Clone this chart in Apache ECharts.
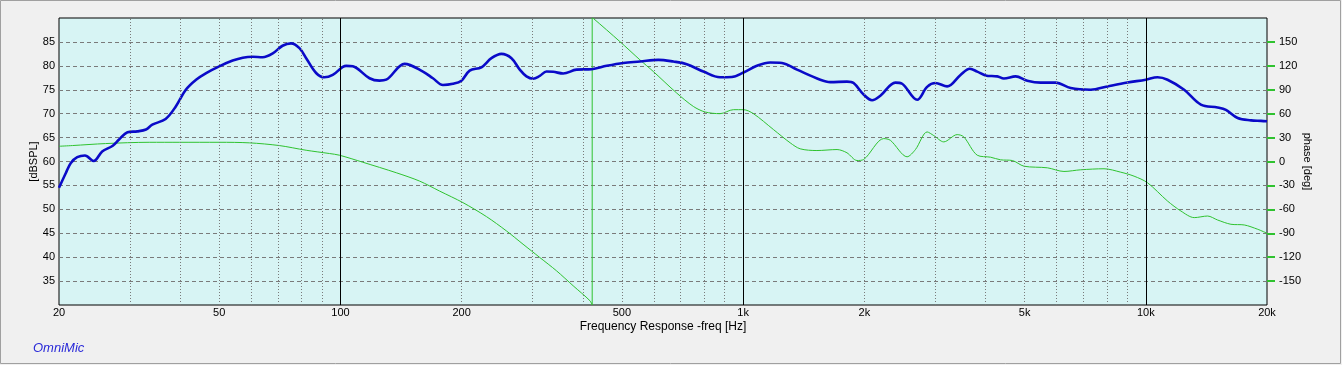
<!DOCTYPE html>
<html><head><meta charset="utf-8">
<script src="https://cdn.jsdelivr.net/npm/echarts@6/dist/echarts.min.js"></script>
<style>html,body{margin:0;padding:0;background:#f0f0f0}#c{width:1342px;height:365px}</style>
</head><body><div id="c"></div>
<script>
// SPL curve (Hz, dB)
const splFreq = [20, 20.8, 21.4, 22.2, 23.2, 24.4, 25.6, 27.2, 28.2, 29.6, 31.3, 32.9, 34.1, 36.8, 39.0, 41.3, 43.8, 46.4, 50.0, 54.0, 57.2, 60.5, 64.1, 67.9, 71.8, 75.4, 79.1, 82.2, 87.0, 91.2, 95.7, 103.3, 107.3, 118.1, 125, 129.9, 144.3, 160.3, 169.7, 179.7, 190.2, 199.7, 209.4, 223.9, 237.1, 251.0, 265.9, 278.8, 289.7, 300.9, 312.6, 324.9, 337.5, 357.3, 385.8, 420.4, 458.2, 503.8, 554.3, 615.6, 670.9, 724.4, 796.6, 876.6, 937.4, 1001.7, 1081.5, 1167.5, 1248.5, 1360.6, 1554.6, 1646, 1811, 1881, 1992, 2090, 2192, 2388, 2482, 2705, 2864, 3003, 3211, 3466, 3656, 3814, 3999, 4277, 4442, 4750, 5078, 5482, 5973, 6509, 7298, 8030, 9004, 10000, 10693, 11324, 12454, 13703, 15082, 15812, 16910, 18252, 19325, 20000];
const splDb = [54.5, 57.6, 59.7, 60.9, 61.25, 60.1, 62.1, 63.3, 64.6, 66.1, 66.3, 66.7, 67.7, 68.9, 71.5, 75.0, 77.1, 78.5, 79.9, 81.1, 81.7, 81.9, 81.8, 82.6, 84.2, 84.7, 83.7, 81.6, 78.5, 77.6, 78.1, 80.0, 79.9, 77.4, 76.9, 77.1, 80.4, 78.8, 77.4, 76.0, 76.25, 76.9, 79.0, 79.7, 81.6, 82.5, 81.6, 79.2, 77.8, 77.3, 77.9, 78.8, 78.75, 78.4, 79.2, 79.3, 80.0, 80.6, 80.9, 81.25, 80.9, 80.35, 78.8, 77.6, 77.65, 78.6, 80.0, 80.7, 80.6, 79.2, 77.1, 76.6, 76.7, 76.4, 74.0, 72.8, 73.75, 76.5, 76.25, 72.9, 75.6, 76.4, 75.7, 78.1, 79.4, 78.8, 78.0, 77.8, 77.35, 77.8, 76.9, 76.5, 76.5, 75.35, 75.0, 75.7, 76.5, 77.1, 77.6, 77.1, 75.0, 71.9, 71.3, 70.8, 69.1, 68.6, 68.5, 68.4];
// Phase curve (Hz, deg), split at the wrap
const phaseFreqLow = [20, 21.6, 26.1, 33.5, 39.8, 50, 59.4, 70.5, 82.2, 93.9, 99.4, 113.6, 137.6, 157.3, 176.3, 201.5, 230.4, 258.4, 284.1, 312.6, 344.0, 378.4, 416.4, 421.9];
const phaseLow = [19.1, 20, 22.5, 24.1, 24.1, 24.1, 23.4, 20, 14.1, 10.0, 7.9, -0.9, -14.1, -24.6, -37.1, -51.6, -69.1, -87.1, -103.75, -120.4, -137.1, -155.9, -174.6, -180];
const phaseFreqHigh = [421.9, 424.4, 494.3, 554.3, 598.3, 683.9, 752.2, 804.5, 876.6, 946, 1001.7, 1060.7, 1190, 1309, 1386, 1525, 1711, 1811, 1918, 1992, 2234, 2321, 2554, 2679, 2864, 2975, 3150, 3401, 3532, 3814, 4116, 4359, 4661, 4983, 5695, 6264, 6891, 7875, 8667, 9352, 10097, 11324, 12222, 13192, 14240, 15082, 16273, 17564, 18962, 20000];
const phaseHigh = [180, 179.6, 150.4, 127.5, 112.9, 85.9, 69.1, 62.1, 60, 65, 65, 60, 40, 23.4, 15.9, 13.75, 15, 10.9, 1.25, 2.5, 28.75, 26.6, 5.9, 15, 37.1, 32.5, 24.6, 33.75, 30.9, 7.9, 5.4, 2.1, 1.25, -5.9, -7.9, -12.5, -10.4, -9.1, -13.4, -18.4, -26.6, -49.6, -62.1, -70.4, -68.4, -73.4, -78.75, -79.6, -85, -90];
// Axis ticks
const xLabelValues = [20, 50, 100, 200, 500, 1000, 2000, 5000, 10000, 20000];
const majorGridFreqs = [100, 1000, 10000];
const minorGridFreqs = [30, 40, 50, 60, 70, 80, 90, 200, 300, 400, 500, 600, 700, 800, 900, 2000, 3000, 4000, 5000, 6000, 7000, 8000, 9000];
const phaseTicks = [-150, -120, -90, -60, -30, 0, 30, 60, 90, 120, 150];

const zip = (a, b) => a.map((v, i) => [v, b[i]]);
const font = '"Liberation Sans", Arial, sans-serif';
const green = '#2fc22f';
const chart = echarts.init(document.getElementById('c'), null, {renderer: 'canvas'});
const lowData = zip(phaseFreqLow, phaseLow);
const highData = zip(phaseFreqHigh, phaseHigh);

chart.setOption({
  backgroundColor: '#f0f0f0',
  animation: false,
  grid: {left: 59, top: 18, right: 75, height: 287, show: true, backgroundColor: '#d7f4f4', borderColor: '#000', borderWidth: 1},
  xAxis: {
    type: 'log', logBase: 10, min: 20, max: 20000,
    name: 'Frequency Response -freq [Hz]', nameLocation: 'middle', nameGap: 16, nameMoveOverlap: false,
    nameTextStyle: {fontSize: 12, color: '#000', fontFamily: font},
    axisLine: {show: false}, axisTick: {show: false}, splitLine: {show: false},
    minorTick: {show: false}, minorSplitLine: {show: false},
    axisLabel: {customValues: xLabelValues, formatter: v => v >= 1000 ? (v / 1000) + 'k' : String(v),
      fontSize: 11, color: '#000', margin: 2, fontFamily: font}
  },
  yAxis: [
    {type: 'value', min: 30, max: 90, interval: 5, position: 'left',
     name: '[dBSPL]', nameLocation: 'middle', nameGap: 20, nameRotate: 90, nameMoveOverlap: false,
     nameTextStyle: {fontSize: 11, color: '#000', fontFamily: font},
     axisLine: {show: false}, axisTick: {show: false},
     axisLabel: {showMinLabel: false, showMaxLabel: false, fontSize: 11, color: '#000', margin: 4, fontFamily: font},
     splitLine: {show: true, showMinLine: false, showMaxLine: false, lineStyle: {color: '#7a7a7a', type: [4, 3], width: 1}}},
    {type: 'value', min: -180, max: 180, interval: 30, position: 'right',
     name: 'phase [deg]', nameLocation: 'middle', nameGap: 35, nameRotate: -90, nameMoveOverlap: false,
     nameTextStyle: {fontSize: 11, color: '#000', fontFamily: font},
     axisLine: {show: false},
     axisTick: {show: true, inside: false, length: 8, customValues: phaseTicks, lineStyle: {color: green, width: 2}},
     axisLabel: {customValues: phaseTicks, formatter: v => Math.abs(v) > 150 ? '' : String(v),
       fontSize: 11, color: '#000', margin: 12, fontFamily: font},
     splitLine: {show: false}}
  ],
  series: [
    {type: 'line', data: [], silent: true, z: 1,
     markLine: {silent: true, symbol: ['none', 'none'], label: {show: false}, animation: false,
       lineStyle: {color: '#7a7a7a', type: [1, 2], width: 1},
       emphasis: {disabled: true},
       data: minorGridFreqs.map(f => ({xAxis: f}))
         .concat(majorGridFreqs.map(f => ({xAxis: f, lineStyle: {color: '#000', type: 'solid', width: 1}})))}},
    {type: 'line', yAxisIndex: 1, data: lowData, showSymbol: false, smooth: 0.3, z: 2,
     lineStyle: {color: green, width: 1}},
    {type: 'line', yAxisIndex: 1, data: [lowData[lowData.length - 1], highData[0]], showSymbol: false, z: 2,
     lineStyle: {color: green, width: 1}},
    {type: 'line', yAxisIndex: 1, data: highData, showSymbol: false, smooth: 0.3, z: 2,
     lineStyle: {color: green, width: 1}},
    {type: 'line', yAxisIndex: 0, data: zip(splFreq, splDb), showSymbol: false, smooth: 0.35, z: 3,
     lineStyle: {color: '#0a0ac8', width: 2.6}}
  ],
  graphic: [
    {type: 'rect', silent: true, z: -1, shape: {x: 0.5, y: 0.5, width: 1340, height: 363},
     style: {fill: 'none', stroke: '#a0a0a0', lineWidth: 1}},
    {type: 'text', left: 33, top: 342, silent: true,
     style: {text: 'OmniMic', font: 'italic 13px "Liberation Sans", Arial, sans-serif', fill: '#2a2ad8'}}
  ]
});
</script></body></html>
